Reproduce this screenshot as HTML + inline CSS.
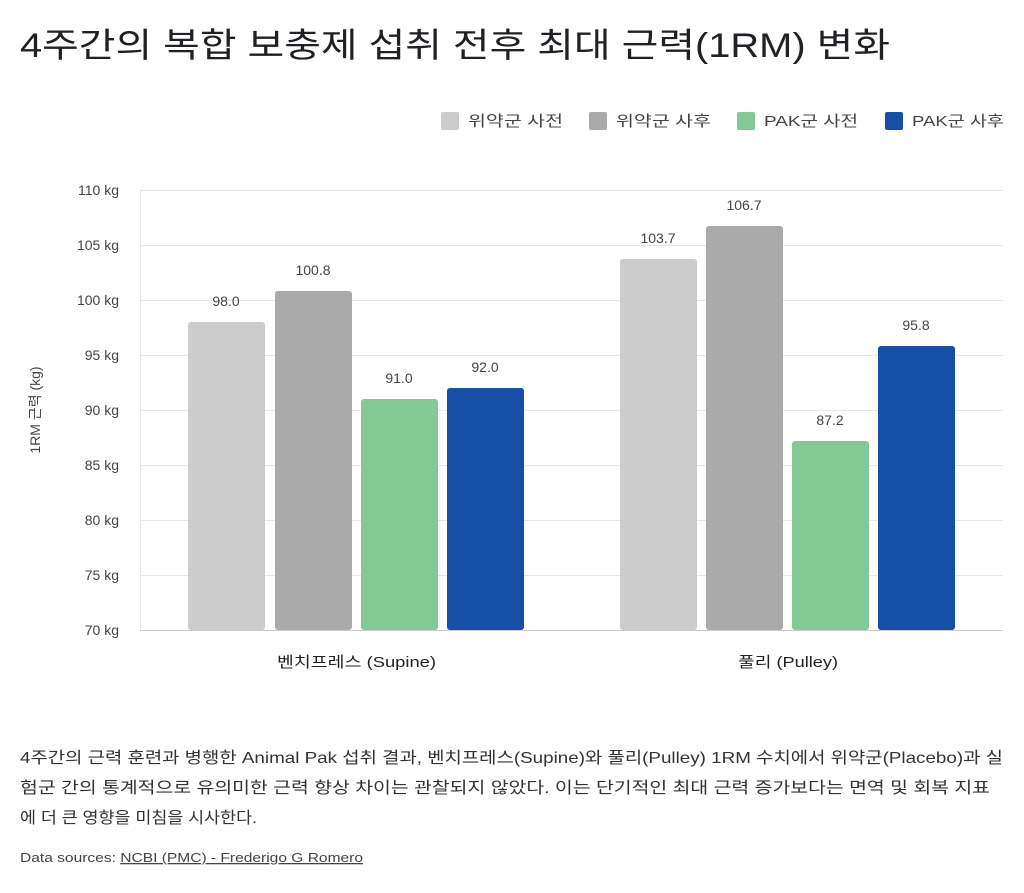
<!DOCTYPE html>
<html><head><meta charset="utf-8"><style>
body{margin:0;background:#fff;width:1024px;height:888px;overflow:hidden;font-family:"Liberation Sans","Noto Sans CJK KR",sans-serif;color:#222}
</style></head><body>
<svg width="1024" height="888" xmlns="http://www.w3.org/2000/svg" font-family="Liberation Sans, Noto Sans CJK KR, sans-serif">
<text x="20" y="57" font-size="34" fill="#202124" textLength="870" lengthAdjust="spacingAndGlyphs">4주간의 복합 보충제 섭취 전후 최대 근력(1RM) 변화</text>
<g font-size="15" fill="#444">
<rect x="441" y="112" width="18" height="18" rx="2" fill="#cccccc"/><text x="468" y="126" textLength="95" lengthAdjust="spacingAndGlyphs">위약군 사전</text>
<rect x="589" y="112" width="18" height="18" rx="2" fill="#aaaaaa"/><text x="616" y="126" textLength="95" lengthAdjust="spacingAndGlyphs">위약군 사후</text>
<rect x="737" y="112" width="18" height="18" rx="2" fill="#81c995"/><text x="764" y="126" textLength="94" lengthAdjust="spacingAndGlyphs">PAK군 사전</text>
<rect x="885" y="112" width="18" height="18" rx="2" fill="#174ea6"/><text x="912" y="126" textLength="92" lengthAdjust="spacingAndGlyphs">PAK군 사후</text>
</g>
<g stroke="#e6e6e6" stroke-width="1">
<line x1="140" x2="1003" y1="190.5" y2="190.5"/><line x1="140" x2="1003" y1="245.5" y2="245.5"/>
<line x1="140" x2="1003" y1="300.5" y2="300.5"/><line x1="140" x2="1003" y1="355.5" y2="355.5"/>
<line x1="140" x2="1003" y1="410.5" y2="410.5"/><line x1="140" x2="1003" y1="465.5" y2="465.5"/>
<line x1="140" x2="1003" y1="520.5" y2="520.5"/><line x1="140" x2="1003" y1="575.5" y2="575.5"/>
<line x1="140.5" x2="140.5" y1="190" y2="630"/>
</g>
<line x1="140" x2="1003" y1="630.5" y2="630.5" stroke="#ccc"/>
<g font-size="14" fill="#444" text-anchor="end">
<text x="119" y="195">110 kg</text><text x="119" y="250">105 kg</text><text x="119" y="305">100 kg</text>
<text x="119" y="360">95 kg</text><text x="119" y="415">90 kg</text><text x="119" y="470">85 kg</text>
<text x="119" y="525">80 kg</text><text x="119" y="580">75 kg</text><text x="119" y="635">70 kg</text>
</g>
<text transform="translate(40,410) rotate(-90)" font-size="14" fill="#444" text-anchor="middle">1RM 근력 (kg)</text>
<g>
<rect x="188" y="322" width="77" height="308" rx="3" fill="#cccccc"/>
<rect x="275" y="291" width="77" height="339" rx="3" fill="#aaaaaa"/>
<rect x="361" y="399" width="77" height="231" rx="3" fill="#81c995"/>
<rect x="447" y="388" width="77" height="242" rx="3" fill="#174ea6"/>
<rect x="620" y="259" width="77" height="371" rx="3" fill="#cccccc"/>
<rect x="706" y="226" width="77" height="404" rx="3" fill="#aaaaaa"/>
<rect x="792" y="441" width="77" height="189" rx="3" fill="#81c995"/>
<rect x="878" y="346" width="77" height="284" rx="3" fill="#174ea6"/>
</g>
<g font-size="14" fill="#444" text-anchor="middle">
<text x="226" y="306">98.0</text><text x="313" y="275">100.8</text><text x="399" y="383">91.0</text><text x="485" y="372">92.0</text>
<text x="658" y="243">103.7</text><text x="744" y="210">106.7</text><text x="830" y="425">87.2</text><text x="916" y="330">95.8</text>
</g>
<g font-size="15" fill="#222">
<text x="277" y="667" textLength="159" lengthAdjust="spacingAndGlyphs">벤치프레스 (Supine)</text><text x="738" y="667" textLength="100" lengthAdjust="spacingAndGlyphs">풀리 (Pulley)</text>
</g>
<g font-size="16" fill="#333">
<text x="20" y="763" textLength="983" lengthAdjust="spacingAndGlyphs">4주간의 근력 훈련과 병행한 Animal Pak 섭취 결과, 벤치프레스(Supine)와 풀리(Pulley) 1RM 수치에서 위약군(Placebo)과 실</text>
<text x="20" y="793" textLength="970" lengthAdjust="spacingAndGlyphs">험군 간의 통계적으로 유의미한 근력 향상 차이는 관찰되지 않았다. 이는 단기적인 최대 근력 증가보다는 면역 및 회복 지표</text>
<text x="20" y="823" textLength="237" lengthAdjust="spacingAndGlyphs">에 더 큰 영향을 미침을 시사한다.</text>
</g>
<text x="20" y="862" font-size="13" fill="#444" textLength="343" lengthAdjust="spacingAndGlyphs">Data sources: <tspan text-decoration="underline">NCBI (PMC) - Frederigo G Romero</tspan></text>
</svg>
</body></html>
